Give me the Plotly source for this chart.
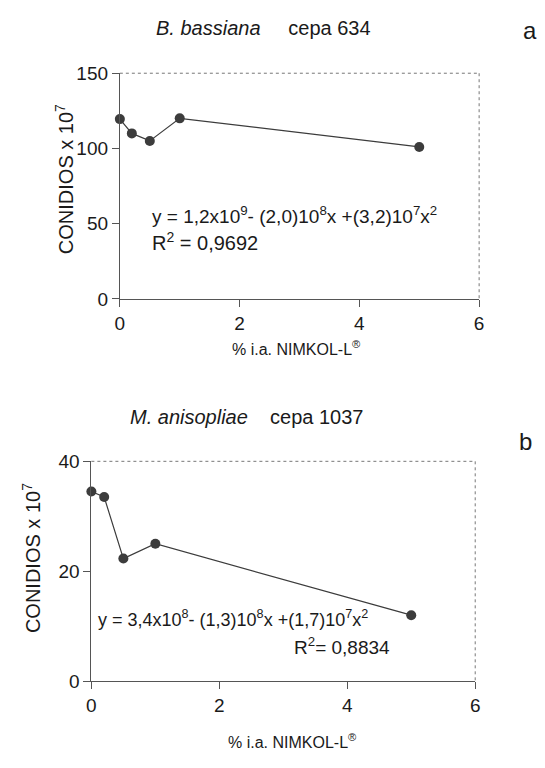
import plotly.graph_objects as go

# Concentration of NIMKOL-L (% active ingredient)
dose = [0, 0.2, 0.5, 1.0, 5.0]
# Conidia production (x 10^7)
bassiana = [119.5, 110, 105, 120, 101]
anisopliae = [34.5, 33.5, 22.3, 25, 12]

x_ticks = [0, 2, 4, 6]
y_ticks_a = [0, 50, 100, 150]
y_ticks_b = [0, 20, 40]

W, H = 545, 768
FONT = "Liberation Sans, Arial, Helvetica, sans-serif"
TXT = "#1a1a1a"
AX = "#555555"
MARK = "#3c3c3c"


def px(x):
    return x / W


def py(y):
    return 1 - y / H


# plot areas in pixels: (left, right, top, bottom)
box_a = (117, 483, 65, 297)
box_b = (88, 479, 464, 690)

fig = go.Figure()

fig.add_trace(go.Scatter(
    x=dose, y=bassiana, mode="lines+markers", xaxis="x", yaxis="y",
    line=dict(color=MARK, width=1.2),
    marker=dict(color=MARK, size=10), showlegend=False, cliponaxis=False))
fig.add_trace(go.Scatter(
    x=dose, y=anisopliae, mode="lines+markers", xaxis="x2", yaxis="y2",
    line=dict(color=MARK, width=1.2),
    marker=dict(color=MARK, size=10), showlegend=False, cliponaxis=False))

axis_common = dict(showgrid=False, zeroline=False, showline=True,
                   linecolor=AX, linewidth=1, ticks="outside", ticklen=7,
                   tickcolor=AX, tickfont=dict(family=FONT, size=19, color=TXT))

fig.update_layout(
    width=W, height=H, margin=dict(l=0, r=0, t=0, b=0),
    plot_bgcolor="white", paper_bgcolor="white",
    xaxis=dict(domain=[px(box_a[0]), px(box_a[1])], range=[0, 6],
               tickvals=x_ticks, anchor="y", **axis_common),
    yaxis=dict(domain=[py(box_a[3]), py(box_a[2])], range=[0, 150],
               tickvals=y_ticks_a, anchor="x", **axis_common),
    xaxis2=dict(domain=[px(box_b[0]), px(box_b[1])], range=[0, 6],
                tickvals=x_ticks, anchor="y2", **axis_common),
    yaxis2=dict(domain=[py(box_b[3]), py(box_b[2])], range=[0, 40],
                tickvals=y_ticks_b, anchor="x2", **axis_common),
)

# dashed top and right frame edges
for (l, r, t, b) in (box_a, box_b):
    fig.add_shape(type="line", xref="paper", yref="paper",
                  x0=px(l), x1=px(r), y0=py(t), y1=py(t),
                  line=dict(color="#777777", width=1, dash="dot"))
    fig.add_shape(type="line", xref="paper", yref="paper",
                  x0=px(r), x1=px(r), y0=py(t), y1=py(b),
                  line=dict(color="#777777", width=1, dash="dot"))


def note(x, y, text, size=15, angle=0, xanchor="center"):
    fig.add_annotation(xref="paper", yref="paper", x=px(x), y=py(y),
                       text=text, showarrow=False, textangle=angle,
                       xanchor=xanchor, yanchor="middle",
                       font=dict(family=FONT, size=size, color=TXT))


# titles and panel letters
note(263, 18, "<i>B. bassiana</i>     cepa 634", 20)
note(535, 21, "a", 24)
note(247, 418, "<i>M. anisopliae</i>    cepa 1037", 20)
note(530, 444, "b", 24)

# axis titles
y_title = "CONIDIOS x 10<sup>7</sup>"
x_title = "% i.a. NIMKOL-L<sup>®</sup>"
note(60, 174, y_title, 20, -90)
note(27, 564, y_title, 20, -90)
note(297, 348, x_title, 16)
note(293, 752, x_title, 16)

# regression equations
note(148, 211, "y = 1,2x10<sup>9</sup>- (2,0)10<sup>8</sup>x +(3,2)10<sup>7</sup>x<sup>2</sup>",
     19, xanchor="left")
note(148, 238, "R<sup>2</sup> = 0,9692", 20, xanchor="left")
note(93, 626, "y = 3,4x10<sup>8</sup>- (1,3)10<sup>8</sup>x +(1,7)10<sup>7</sup>x<sup>2</sup>",
     18, xanchor="left")
note(292, 654, "R<sup>2</sup>= 0,8834", 19, xanchor="left")

fig.write_html("out.html")
